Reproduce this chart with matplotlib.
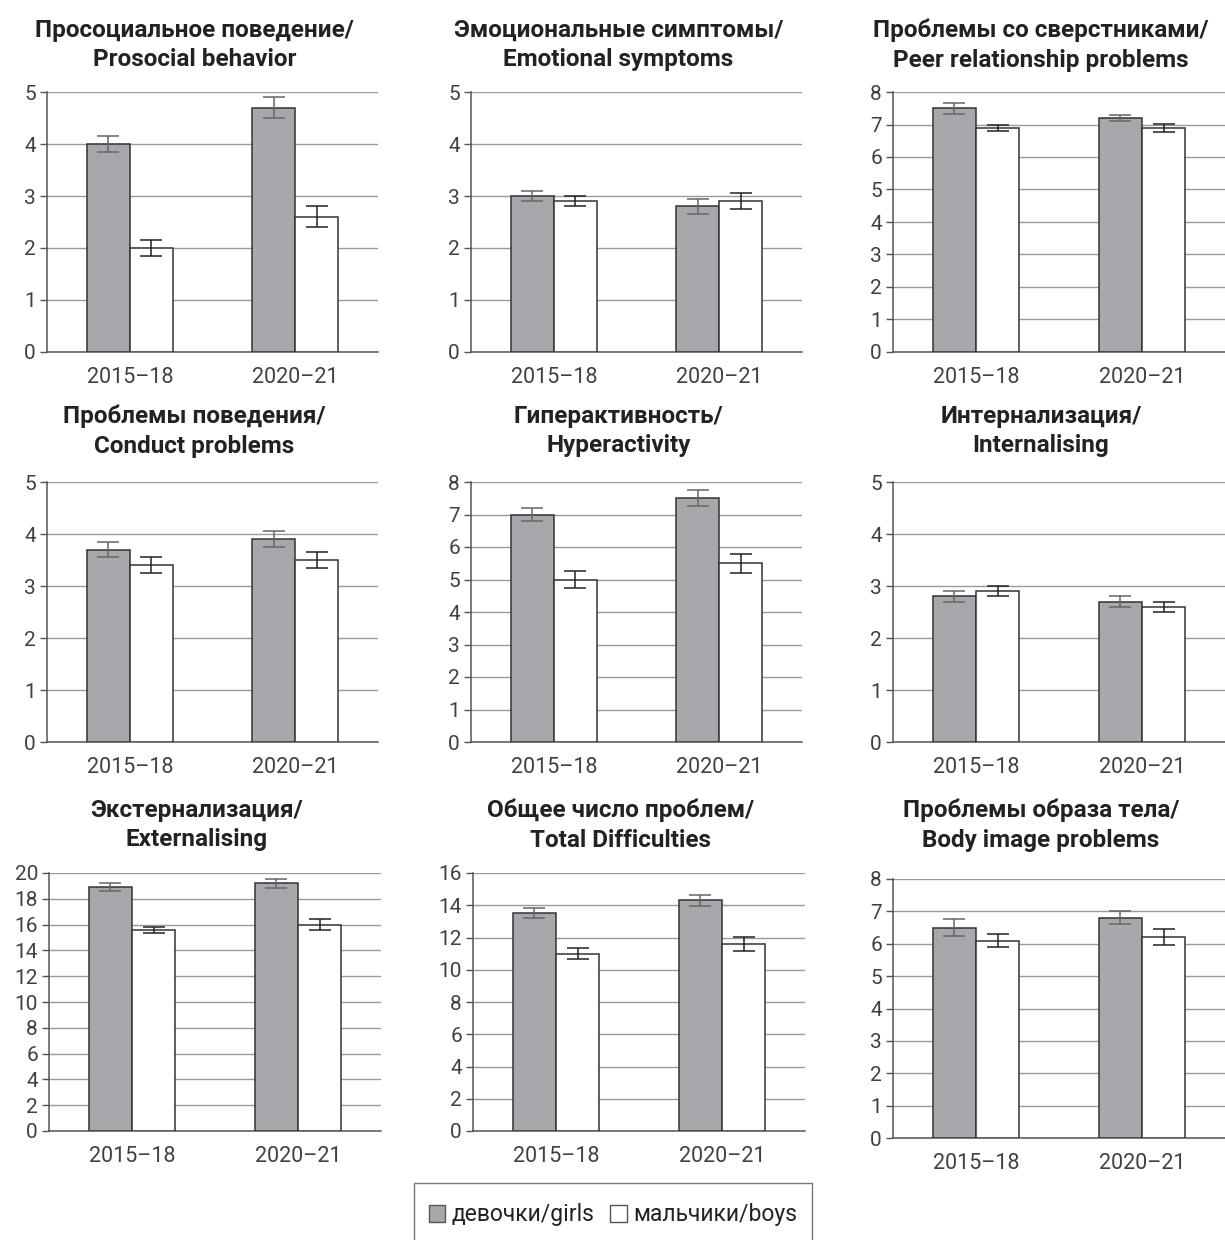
import matplotlib
matplotlib.use("Agg")
import matplotlib.pyplot as plt
from matplotlib.patches import Patch, Rectangle

plt.rcParams.update({
    "font.family": ["Roboto", "DejaVu Sans"],
    "axes.unicode_minus": False,
})

periods = ["2015–18", "2020–21"]

titles = [
    "Просоциальное поведение/\nProsocial behavior",
    "Эмоциональные симптомы/\nEmotional symptoms",
    "Проблемы со сверстниками/\nPeer relationship problems",
    "Проблемы поведения/\nConduct problems",
    "Гиперактивность/\nHyperactivity",
    "Интернализация/\nInternalising",
    "Экстернализация/\nExternalising",
    "Общее число проблем/\nTotal Difficulties",
    "Проблемы образа тела/\nBody image problems",
]

girls = [
    [4.0, 4.7], [3.0, 2.8], [7.5, 7.2],
    [3.7, 3.9], [7.0, 7.5], [2.8, 2.7],
    [18.9, 19.2], [13.5, 14.3], [6.5, 6.8],
]
girls_err = [
    [0.15, 0.2], [0.1, 0.15], [0.17, 0.1],
    [0.15, 0.15], [0.2, 0.25], [0.1, 0.1],
    [0.3, 0.35], [0.3, 0.35], [0.25, 0.2],
]
boys = [
    [2.0, 2.6], [2.9, 2.9], [6.9, 6.9],
    [3.4, 3.5], [5.0, 5.5], [2.9, 2.6],
    [15.6, 16.0], [11.0, 11.6], [6.1, 6.2],
]
boys_err = [
    [0.15, 0.2], [0.1, 0.15], [0.1, 0.12],
    [0.15, 0.15], [0.25, 0.3], [0.1, 0.1],
    [0.25, 0.4], [0.35, 0.45], [0.2, 0.25],
]
y_max = [5, 5, 8, 5, 8, 5, 20, 16, 8]
y_step = [1, 1, 1, 1, 1, 1, 2, 2, 1]

W, H = 1225, 1240
# axes boxes in pixels: left, top, right, bottom
boxes = [
    (47, 92, 378, 352), (471, 92, 802, 352), (893, 92, 1225, 352),
    (47, 482, 378, 742), (471, 482, 802, 742), (893, 482, 1225, 742),
    (49, 873, 381, 1131), (473, 873, 805, 1131), (893, 879, 1225, 1138),
]
# vertical centre of each two-line title, pixels from top
title_y = [45, 45, 45, 431, 431, 431, 825, 825, 825]

GIRL = "#a7a8ac"
EDGE = "#333333"
GRID = "#9a9a9a"
TXT = "#404040"
BW = 0.26

fig = plt.figure(figsize=(W / 100, H / 100), dpi=100)

for i, (l, t, r, b) in enumerate(boxes):
    ax = fig.add_axes([l / W, (H - b) / H, (r - l) / W, (b - t) / H])
    x = range(len(periods))
    xg = [k - BW / 2 for k in x]
    xb = [k + BW / 2 for k in x]
    ax.bar(xg, girls[i], BW, color=GIRL, edgecolor=EDGE, linewidth=1.1, zorder=3,
           yerr=girls_err[i],
           error_kw=dict(ecolor="#666666", elinewidth=1.1, capsize=8, capthick=1.1, zorder=4))
    ax.bar(xb, boys[i], BW, color="white", edgecolor=EDGE, linewidth=1.1, zorder=3,
           yerr=boys_err[i],
           error_kw=dict(ecolor="#222222", elinewidth=1.1, capsize=8, capthick=1.1, zorder=4))
    ax.set_xlim(-0.5, 1.5)
    ax.set_ylim(0, y_max[i])
    ax.set_yticks(range(0, y_max[i] + 1, y_step[i]))
    ax.set_xticks(list(x))
    ax.set_xticklabels(periods)
    ax.yaxis.grid(True, color=GRID, linewidth=1.0, zorder=0)
    ax.set_axisbelow(True)
    for s in ("top", "right"):
        ax.spines[s].set_visible(False)
    for s in ("left", "bottom"):
        ax.spines[s].set_color("#555555")
        ax.spines[s].set_linewidth(1.1)
    ax.tick_params(axis="y", length=5, width=1.0, color="#555555", pad=3,
                   labelsize=15, labelcolor=TXT)
    ax.tick_params(axis="x", length=0, pad=11, labelsize=15.5, labelcolor=TXT)

    # two-line title above each panel, a little left of the axes centre
    cx = ((l + r) / 2 - 18) / W
    cy = (H - title_y[i]) / H
    fig.text(cx, cy, titles[i], ha="center", va="center", fontsize=17.5,
             fontweight="bold", color="#222222", linespacing=1.38)

# legend box running off the bottom edge
fig.patches.append(Rectangle((414 / W, -0.01), (812 - 414) / W, (H - 1183) / H + 0.01,
                             transform=fig.transFigure, facecolor="white",
                             edgecolor="#777777", linewidth=1.0))
handles = [
    Patch(facecolor=GIRL, edgecolor="#555555", label="девочки/girls"),
    Patch(facecolor="white", edgecolor="#555555", label="мальчики/boys"),
]
fig.legend(handles=handles, loc="center", bbox_to_anchor=(613 / W, (H - 1215) / H),
           ncol=2, frameon=False, fontsize=16.5, handlelength=0.7, handleheight=0.7,
           handletextpad=0.3, columnspacing=0.7, labelcolor="#222222")

fig.savefig("out.png", dpi=100)
